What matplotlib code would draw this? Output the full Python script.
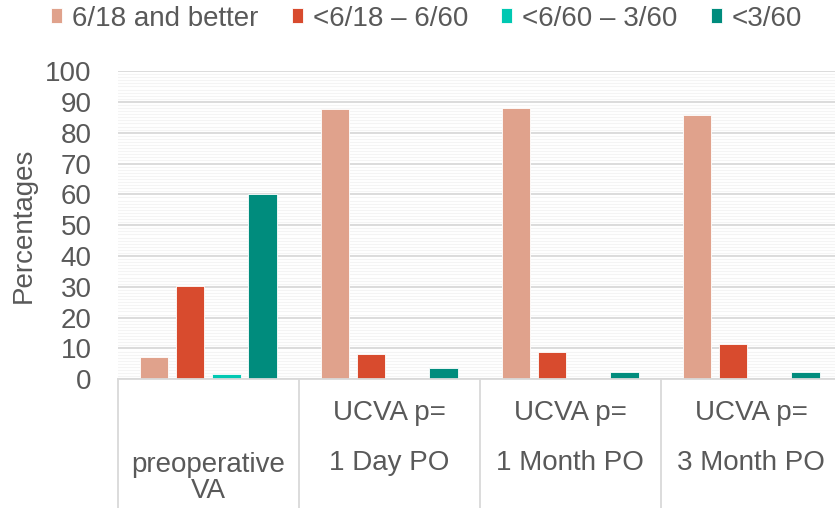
import matplotlib.pyplot as plt
import matplotlib.transforms as mtransforms
import numpy as np

plt.rcParams['font.family'] = ['Liberation Sans', 'DejaVu Sans']

# data
top_lines = ["", "UCVA p=", "UCVA p=", "UCVA p="]
bottom_lines = ["preoperative\nVA", "1 Day PO", "1 Month PO", "3 Month PO"]
series = ["6/18 and better", "<6/18 \u2013 6/60", "<6/60 \u2013 3/60", "<3/60"]
good = [7.2, 87.7, 88.1, 85.7]
mid = [30.3, 8.1, 8.8, 11.4]
low = [1.7, 0, 0, 0]
worst = [60.0, 3.7, 2.5, 2.5]
colors = ["#E0A28C", "#D84B2E", "#00C8B2", "#008C7D"]

txt = "#595959"
grid = "#D9D9D9"
fs = 20

fig = plt.figure(figsize=(8.35, 5.08), dpi=100)
ax = fig.add_axes([0.1411, 0.2533, 0.8671, 0.6069])

x = np.arange(len(bottom_lines))
w = 0.157
step = 0.2
for i, (vals, name) in enumerate(zip([good, mid, low, worst], series)):
    ax.bar(x + (i - 1.5) * step, vals, w, color=colors[i], label=name,
           edgecolor="white", linewidth=0.6, zorder=3)

ax.set_xlim(-0.5, 3.5)
ax.set_ylim(0, 100)
ax.set_yticks(range(0, 101, 10))
ax.set_yticks(range(0, 101, 1), minor=True)
ax.grid(axis="y", which="major", color=grid, linewidth=1.3, zorder=0)
ax.grid(axis="y", which="minor", color="#F4F4F4", linewidth=0.8, zorder=0)
ax.tick_params(axis="y", which="both", length=0, pad=19, labelsize=fs, labelcolor=txt)
ax.set_xticks([])
for s in ["left", "right", "top"]:
    ax.spines[s].set_visible(False)
ax.spines["bottom"].set_color(grid)
ax.spines["bottom"].set_linewidth(1.3)
ax.spines["bottom"].set_zorder(4)

ax.set_ylabel("Percentages", fontsize=fs, color=txt, labelpad=6)

# category separators below the axis
trans = mtransforms.blended_transform_factory(ax.transData, ax.transAxes)
for b in np.arange(-0.5, 3.6, 1.0):
    ax.plot([b, b], [0, -0.45], transform=trans, color=grid, linewidth=1.3,
            clip_on=False)

for i in x:
    if top_lines[i]:
        ax.text(i, -0.109, top_lines[i], transform=trans, ha="center",
                va="center", fontsize=fs, color=txt)
        ax.text(i, -0.271, bottom_lines[i], transform=trans, ha="center",
                va="center", fontsize=fs, color=txt)
    else:
        ax.text(i, -0.321, bottom_lines[i], transform=trans, ha="center",
                va="center", fontsize=fs, color=txt, linespacing=1.02)

ax.legend(loc="center", bbox_to_anchor=(0.511, 0.963), bbox_transform=fig.transFigure,
          ncol=4, frameon=False, fontsize=fs, labelcolor=txt,
          handlelength=0.4, handleheight=0.45, handletextpad=0.35,
          columnspacing=1.2, borderpad=0)

fig.savefig("out.png", dpi=100)
